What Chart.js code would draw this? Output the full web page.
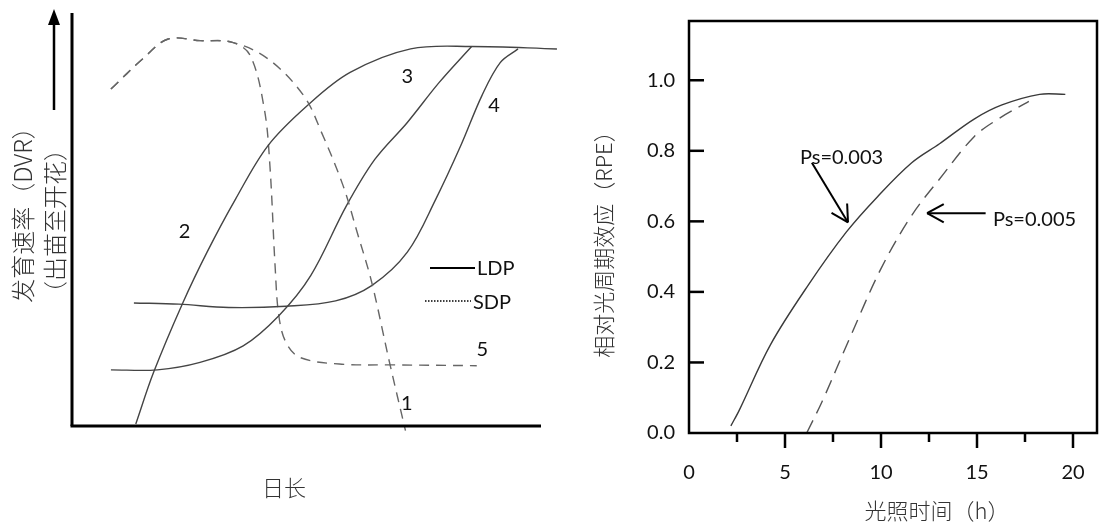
<!DOCTYPE html>
<html>
<head>
<meta charset="utf-8">
<script src="https://cdn.jsdelivr.net/npm/chart.js@4.4.1/dist/chart.umd.min.js"></script>
<style>
  html, body { margin: 0; padding: 0; background: #fff; }
  #wrap { position: relative; width: 1101px; height: 525px; }
  #devChart { position: absolute; left: 0; top: 0; }
  #rpeChart { position: absolute; left: 560px; top: 0; }
</style>
</head>
<body>
<div id="wrap">
  <canvas id="devChart" width="560" height="525"></canvas>
  <canvas id="rpeChart" width="541" height="525"></canvas>
</div>
<script>
// ---- left panel: 日长 vs 发育速率 (no numeric scale, 0-100 units) ----
const curve1X = [8.3, 15.1, 20.5, 27.3, 34.2, 41.8, 49.4, 53.2, 57.8, 60.8, 63.9, 67.7, 71.1];
const curve1Y = [81.6, 88.9, 93.7, 93.3, 92.9, 88.9, 80.0, 71.1, 58.2, 46.9, 34.8, 15.4, -1.1];
const curve2X = [13.6, 17.4, 23.5, 28.8, 34.9, 41.8, 50.2, 59.3, 72.2, 85.2, 103.4];
const curve2Y = [0.5, 13.0, 29.5, 42.1, 55.0, 67.9, 77.6, 85.6, 91.3, 91.9, 91.3];
const curve3X = [8.3, 18.2, 27.3, 36.5, 44.1, 50.9, 58.5, 64.6, 71.5, 78.3, 85.2];
const curve3Y = [13.6, 13.6, 15.4, 19.4, 26.7, 36.4, 53.3, 64.6, 73.5, 83.2, 91.9];
const curve4X = [13.2, 22.8, 33.4, 45.6, 56.2, 63.9, 71.5, 77.6, 82.9, 87.4, 91.3, 95.1];
const curve4Y = [29.8, 29.5, 28.7, 29.0, 30.3, 34.0, 42.1, 55.0, 67.9, 80.0, 88.0, 91.3];
const curve5X = [8.3, 15.1, 20.5, 27.3, 34.2, 38.0, 41.0, 42.2, 43.3, 44.1, 45.6, 48.6, 57.0, 68.4, 86.3];
const curve5Y = [81.6, 88.9, 93.7, 93.3, 92.9, 89.7, 76.8, 63.0, 38.8, 26.7, 20.3, 16.6, 15.0, 14.8, 14.6];
const curveNames = ['1', '2', '3', '4', '5'];

// ---- right panel: 光照时间 vs RPE ----
const ps003X = [2.18, 2.62, 4.24, 6.22, 8.2, 9.82, 11.6, 13.05, 14.85, 16.3, 18.26, 19.6];
const ps003Y = [0.02, 0.065, 0.25, 0.42, 0.57, 0.67, 0.766, 0.82, 0.89, 0.93, 0.96, 0.96];
const ps005X = [6.13, 6.94, 8.38, 10.0, 11.6, 13.05, 14.85, 16.1, 17.7];
const ps005Y = [0.0, 0.09, 0.27, 0.466, 0.617, 0.72, 0.84, 0.89, 0.94];
const xTickLabels = [0, 5, 10, 15, 20];
const yTickLabels = [0.0, 0.2, 0.4, 0.6, 0.8, 1.0];

const numFont = '20px Lato';
const cjkFont = '300 22px "Noto Sans CJK SC"';

function pts(xs, ys) {
    return xs.map((x, i) => ({ x: x, y: ys[i] }));
}

function line(ctx, x1, y1, x2, y2) {
    ctx.beginPath();
    ctx.moveTo(x1, y1);
    ctx.lineTo(x2, y2);
    ctx.stroke();
}

// open arrow head at (x2,y2)
function arrow(ctx, x1, y1, x2, y2) {
    line(ctx, x1, y1, x2, y2);
    const ang = Math.atan2(y2 - y1, x2 - x1);
    const len = 19, spread = 0.5;
    line(ctx, x2, y2, x2 - len * Math.cos(ang - spread), y2 - len * Math.sin(ang - spread));
    line(ctx, x2, y2, x2 - len * Math.cos(ang + spread), y2 - len * Math.sin(ang + spread));
}

// axes, arrow, labels, legend for the left panel
const devDecor = {
    id: 'devDecor',
    afterDraw(chart) {
        const { ctx, chartArea: a, scales: { x, y } } = chart;
        ctx.save();
        ctx.strokeStyle = '#000';
        ctx.lineWidth = 3;
        line(ctx, a.left, a.top, a.left, a.bottom);
        line(ctx, a.left - 1.5, a.bottom, a.right, a.bottom);

        // upward arrow beside the axis
        const ax = a.left - 18;
        ctx.lineWidth = 2.5;
        line(ctx, ax, a.top + 97, ax, a.top + 8);
        ctx.fillStyle = '#000';
        ctx.beginPath();
        ctx.moveTo(ax, a.top - 4);
        ctx.lineTo(ax - 6, a.top + 12);
        ctx.lineTo(ax + 6, a.top + 12);
        ctx.closePath();
        ctx.fill();

        // titles
        ctx.fillStyle = '#333';
        ctx.font = '300 24px "Noto Sans CJK SC"';
        ctx.textAlign = 'center';
        ctx.textBaseline = 'middle';
        ctx.save();
        ctx.translate(23, 209);
        ctx.rotate(-Math.PI / 2);
        ctx.fillText('发育速率（DVR）', 0, 0);
        ctx.restore();
        ctx.save();
        ctx.translate(55, 221);
        ctx.rotate(-Math.PI / 2);
        ctx.fillText('（出苗至开花）', 0, 0);
        ctx.restore();
        ctx.font = cjkFont;
        ctx.fillText('日长', 284, 488);

        // curve numbers
        ctx.fillStyle = '#111';
        ctx.font = numFont;
        const labelAt = [[71.4, 5.5], [24, 47], [71.5, 84.5], [90, 77.5], [87.5, 18.5]];
        curveNames.forEach((n, i) => {
            ctx.fillText(n, x.getPixelForValue(labelAt[i][0]), y.getPixelForValue(labelAt[i][1]));
        });

        // legend
        ctx.textAlign = 'left';
        ctx.lineWidth = 2;
        ctx.strokeStyle = '#000';
        line(ctx, 430, 268, 475, 268);
        ctx.fillText('LDP', 477, 269);
        ctx.lineWidth = 1.5;
        ctx.setLineDash([1.5, 1.5]);
        line(ctx, 425, 301, 471, 301);
        ctx.setLineDash([]);
        ctx.fillText('SDP', 473, 303);
        ctx.restore();
    }
};

// frame, inward/outward ticks, annotations for the right panel
const rpeDecor = {
    id: 'rpeDecor',
    afterDraw(chart) {
        const { ctx, chartArea: a, scales: { x, y } } = chart;
        ctx.save();
        ctx.strokeStyle = '#000';
        ctx.lineWidth = 2.5;
        ctx.strokeRect(a.left, a.top, a.right - a.left, a.bottom - a.top);

        y.ticks.forEach(t => {
            if (t.value === 0) return;
            const py = y.getPixelForValue(t.value);
            line(ctx, a.left, py, a.left + 15, py);
        });
        x.ticks.forEach(t => {
            if (t.value === 0) return;
            const px = x.getPixelForValue(t.value);
            const major = Math.abs(t.value % 5) < 1e-6;
            line(ctx, px, a.bottom, px, a.bottom + (major ? 15 : 9));
        });

        // Ps labels and arrows
        ctx.lineWidth = 2;
        arrow(ctx, x.getPixelForValue(6.4), y.getPixelForValue(0.766),
                   x.getPixelForValue(8.28), y.getPixelForValue(0.597));
        arrow(ctx, x.getPixelForValue(15.45), y.getPixelForValue(0.623),
                   x.getPixelForValue(12.4), y.getPixelForValue(0.623));
        ctx.fillStyle = '#111';
        ctx.font = numFont;
        ctx.textAlign = 'left';
        ctx.textBaseline = 'middle';
        ctx.fillText('Ps=0.003', x.getPixelForValue(5.78), y.getPixelForValue(0.78));
        ctx.fillText('Ps=0.005', x.getPixelForValue(15.83), y.getPixelForValue(0.606));

        // titles
        ctx.fillStyle = '#333';
        ctx.font = cjkFont;
        ctx.textAlign = 'center';
        ctx.fillText('光照时间（h）', 377, 511);
        ctx.save();
        ctx.translate(44, 239);
        ctx.rotate(-Math.PI / 2);
        ctx.fillText('相对光周期效应（RPE）', 0, 0);
        ctx.restore();
        ctx.restore();
    }
};

const solid = { borderColor: '#444', borderWidth: 1.4, pointRadius: 0, fill: false, tension: 0.35, clip: false };
const dashedLeft = { borderColor: '#666', borderWidth: 1.4, pointRadius: 0, fill: false, tension: 0.35, clip: false, borderDash: [10, 7] };

new Chart(document.getElementById('devChart'), {
    type: 'line',
    data: {
        datasets: [
            Object.assign({ data: pts(curve1X, curve1Y) }, dashedLeft),
            Object.assign({ data: pts(curve2X, curve2Y) }, solid),
            Object.assign({ data: pts(curve3X, curve3Y) }, solid),
            Object.assign({ data: pts(curve4X, curve4Y) }, solid),
            Object.assign({ data: pts(curve5X, curve5Y) }, dashedLeft)
        ]
    },
    options: {
        responsive: false,
        animation: false,
        layout: { padding: { left: 72, right: 19, top: 13, bottom: 99 } },
        plugins: { legend: { display: false }, tooltip: { enabled: false } },
        scales: {
            x: { type: 'linear', min: 0, max: 100, display: false },
            y: { min: 0, max: 100, display: false }
        }
    },
    plugins: [devDecor]
});

new Chart(document.getElementById('rpeChart'), {
    type: 'line',
    data: {
        datasets: [
            { data: pts(ps003X, ps003Y), borderColor: '#3a3a3a', borderWidth: 1.4, pointRadius: 0, fill: false, tension: 0.35 },
            { data: pts(ps005X, ps005Y), borderColor: '#555', borderWidth: 1.4, pointRadius: 0, fill: false, tension: 0.35, borderDash: [14, 8] }
        ]
    },
    options: {
        responsive: false,
        animation: false,
        layout: { padding: { left: 0, right: 4, top: 21, bottom: 0 } },
        plugins: { legend: { display: false }, tooltip: { enabled: false } },
        scales: {
            x: {
                type: 'linear', min: 0, max: 21.25,
                grid: { display: false, drawTicks: false },
                border: { display: false },
                afterFit: s => { s.height = 92; s.paddingLeft = 0; s.paddingRight = 0; },
                ticks: {
                    stepSize: 2.5, includeBounds: false, autoSkip: false, maxRotation: 0,
                    padding: 28, color: '#111', font: { family: 'Lato', size: 20 },
                    callback: v => xTickLabels.includes(v) ? String(v) : ''
                }
            },
            y: {
                min: 0, max: 1.168,
                grid: { display: false, drawTicks: false },
                border: { display: false },
                afterFit: s => { s.width = 129; s.paddingTop = 0; s.paddingBottom = 0; },
                ticks: {
                    stepSize: 0.2, includeBounds: false, padding: 14,
                    color: '#111', font: { family: 'Lato', size: 20 },
                    callback: v => {
                        const hit = yTickLabels.find(t => Math.abs(t - v) < 1e-6);
                        return hit === undefined ? '' : hit.toFixed(1);
                    }
                }
            }
        }
    },
    plugins: [rpeDecor]
});
</script>
</body>
</html>
